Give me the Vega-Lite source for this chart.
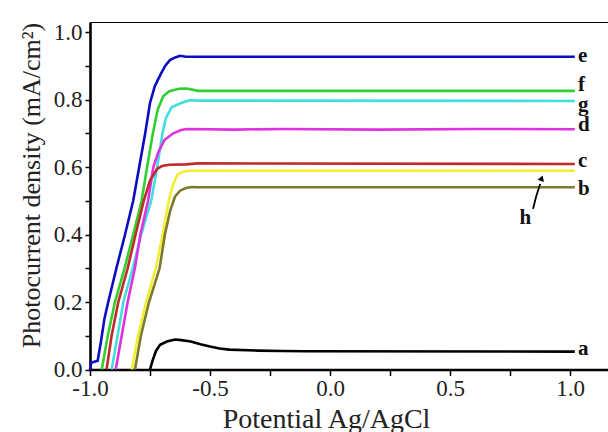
{
  "$schema": "https://vega.github.io/schema/vega-lite/v6.json",
  "width": 518,
  "height": 347.5,
  "autosize": {"type": "none"},
  "padding": {"left": 90, "top": 22, "right": 0, "bottom": 62.5},
  "background": "white",
  "config": {
    "view": {"stroke": null},
    "axis": {"grid": false}
  },
  "datasets": {
    "curves": [
      {"s":"e","x":-1.0,"y":0.0},{"s":"e","x":-0.995,"y":0.02},{"s":"e","x":-0.968,"y":0.026},{"s":"e","x":-0.955,"y":0.08},{"s":"e","x":-0.94,"y":0.15},{"s":"e","x":-0.924,"y":0.2},{"s":"e","x":-0.89,"y":0.3},{"s":"e","x":-0.854,"y":0.4},{"s":"e","x":-0.82,"y":0.5},{"s":"e","x":-0.795,"y":0.6},{"s":"e","x":-0.77,"y":0.7},{"s":"e","x":-0.75,"y":0.79},{"s":"e","x":-0.73,"y":0.84},{"s":"e","x":-0.708,"y":0.872},{"s":"e","x":-0.687,"y":0.9},{"s":"e","x":-0.667,"y":0.917},{"s":"e","x":-0.645,"y":0.925},{"s":"e","x":-0.625,"y":0.93},{"s":"e","x":-0.6,"y":0.927},{"s":"e","x":1.02,"y":0.927},
      {"s":"f","x":-0.951,"y":0.0},{"s":"f","x":-0.926,"y":0.1},{"s":"f","x":-0.896,"y":0.2},{"s":"f","x":-0.856,"y":0.3},{"s":"f","x":-0.82,"y":0.4},{"s":"f","x":-0.785,"y":0.5},{"s":"f","x":-0.762,"y":0.6},{"s":"f","x":-0.738,"y":0.7},{"s":"f","x":-0.718,"y":0.77},{"s":"f","x":-0.695,"y":0.81},{"s":"f","x":-0.67,"y":0.825},{"s":"f","x":-0.63,"y":0.832},{"s":"f","x":-0.597,"y":0.833},{"s":"f","x":-0.55,"y":0.826},{"s":"f","x":1.02,"y":0.826},
      {"s":"g","x":-0.91,"y":0.0},{"s":"g","x":-0.885,"y":0.1},{"s":"g","x":-0.861,"y":0.2},{"s":"g","x":-0.822,"y":0.3},{"s":"g","x":-0.787,"y":0.4},{"s":"g","x":-0.745,"y":0.5},{"s":"g","x":-0.72,"y":0.6},{"s":"g","x":-0.698,"y":0.7},{"s":"g","x":-0.684,"y":0.745},{"s":"g","x":-0.66,"y":0.777},{"s":"g","x":-0.62,"y":0.79},{"s":"g","x":-0.585,"y":0.798},{"s":"g","x":-0.55,"y":0.797},{"s":"g","x":1.02,"y":0.796},
      {"s":"d","x":-0.893,"y":0.0},{"s":"d","x":-0.868,"y":0.1},{"s":"d","x":-0.843,"y":0.2},{"s":"d","x":-0.813,"y":0.3},{"s":"d","x":-0.79,"y":0.4},{"s":"d","x":-0.758,"y":0.5},{"s":"d","x":-0.736,"y":0.6},{"s":"d","x":-0.715,"y":0.645},{"s":"d","x":-0.69,"y":0.68},{"s":"d","x":-0.653,"y":0.7},{"s":"d","x":-0.62,"y":0.71},{"s":"d","x":-0.597,"y":0.713},{"s":"d","x":-0.4,"y":0.711},{"s":"d","x":-0.2,"y":0.713},{"s":"d","x":0.2,"y":0.711},{"s":"d","x":0.6,"y":0.713},{"s":"d","x":1.02,"y":0.712},
      {"s":"c","x":-0.931,"y":0.0},{"s":"c","x":-0.91,"y":0.1},{"s":"c","x":-0.882,"y":0.2},{"s":"c","x":-0.843,"y":0.3},{"s":"c","x":-0.81,"y":0.4},{"s":"c","x":-0.776,"y":0.5},{"s":"c","x":-0.75,"y":0.56},{"s":"c","x":-0.72,"y":0.595},{"s":"c","x":-0.7,"y":0.603},{"s":"c","x":-0.67,"y":0.607},{"s":"c","x":-0.6,"y":0.608},{"s":"c","x":-0.55,"y":0.611},{"s":"c","x":1.02,"y":0.609},
      {"s":"h","x":-0.826,"y":0.0},{"s":"h","x":-0.8,"y":0.1},{"s":"h","x":-0.766,"y":0.2},{"s":"h","x":-0.726,"y":0.3},{"s":"h","x":-0.697,"y":0.4},{"s":"h","x":-0.672,"y":0.5},{"s":"h","x":-0.653,"y":0.55},{"s":"h","x":-0.635,"y":0.578},{"s":"h","x":-0.61,"y":0.587},{"s":"h","x":-0.58,"y":0.589},{"s":"h","x":1.02,"y":0.589},
      {"s":"b","x":-0.8125,"y":0.0},{"s":"b","x":-0.788,"y":0.1},{"s":"b","x":-0.754,"y":0.2},{"s":"b","x":-0.71,"y":0.3},{"s":"b","x":-0.688,"y":0.4},{"s":"b","x":-0.666,"y":0.47},{"s":"b","x":-0.646,"y":0.512},{"s":"b","x":-0.625,"y":0.53},{"s":"b","x":-0.6,"y":0.538},{"s":"b","x":-0.576,"y":0.541},{"s":"b","x":-0.55,"y":0.54},{"s":"b","x":1.02,"y":0.54},
      {"s":"a","x":-0.75,"y":0.0},{"s":"a","x":-0.74,"y":0.025},{"s":"a","x":-0.725,"y":0.055},{"s":"a","x":-0.708,"y":0.073},{"s":"a","x":-0.68,"y":0.083},{"s":"a","x":-0.646,"y":0.089},{"s":"a","x":-0.62,"y":0.087},{"s":"a","x":-0.58,"y":0.083},{"s":"a","x":-0.54,"y":0.075},{"s":"a","x":-0.5,"y":0.068},{"s":"a","x":-0.46,"y":0.062},{"s":"a","x":-0.42,"y":0.059},{"s":"a","x":-0.3,"y":0.056},{"s":"a","x":-0.2,"y":0.055},{"s":"a","x":-0.1,"y":0.054},{"s":"a","x":1.02,"y":0.053}
    ],
    "letters": [
      {"t":"e","x":1.033,"y":0.911},
      {"t":"f","x":1.033,"y":0.825},
      {"t":"g","x":1.033,"y":0.767},
      {"t":"d","x":1.033,"y":0.708},
      {"t":"c","x":1.033,"y":0.601},
      {"t":"b","x":1.033,"y":0.517},
      {"t":"a","x":1.033,"y":0.043},
      {"t":"h","x":0.79,"y":0.431}
    ],
    "arrow": [
      {"x":0.846,"y":0.476},
      {"x":0.86,"y":0.515},
      {"x":0.876,"y":0.55}
    ],
    "head": [
      {"x":0.882,"y":0.567}
    ]
  },
  "resolve": {"axis": {"x": "independent", "y": "independent"}},
  "layer": [
    {
      "data": {"name": "curves"},
      "mark": {"type": "line", "strokeWidth": 2.6, "interpolate": "linear"},
      "encoding": {
        "x": {
          "field": "x", "type": "quantitative",
          "scale": {"domain": [-1.0, 1.1583], "nice": false, "zero": false},
          "axis": {
            "orient": "bottom",
            "values": [-1, -0.75, -0.5, -0.25, 0, 0.25, 0.5, 0.75, 1],
            "labelExpr": "abs(datum.value*2-round(datum.value*2))<0.01 ? replace(format(datum.value,'.1f'),'\u2212','-') : ''",
            "domainColor": "black", "domainWidth": 2.6,
            "tickColor": "black", "tickWidth": 1.5, "tickSize": 6,
            "labelFont": "Liberation Serif", "labelFontSize": 23, "labelColor": "#222",
            "labelPadding": 2, "labelFlush": false, "labelOverlap": false,
            "title": "Potential Ag/AgCl",
            "titleFont": "Liberation Serif", "titleFontSize": 28, "titleFontWeight": "normal", "titleColor": "#222",
            "titleX": 236, "titleY": 58, "titleBaseline": "alphabetic", "titleAlign": "center"
          }
        },
        "y": {
          "field": "y", "type": "quantitative",
          "scale": {"domain": [0, 1.03], "nice": false},
          "axis": {
            "orient": "left",
            "values": [0, 0.1, 0.2, 0.3, 0.4, 0.5, 0.6, 0.7, 0.8, 0.9, 1.0],
            "labelExpr": "abs(datum.value*5-round(datum.value*5))<0.01 ? format(datum.value,'.1f') : ''",
            "domainColor": "black", "domainWidth": 2.6,
            "tickColor": "black", "tickWidth": 1.5, "tickSize": 5,
            "labelFont": "Liberation Serif", "labelFontSize": 23, "labelColor": "#222",
            "labelPadding": 3, "labelFlush": false, "labelOverlap": false,
            "title": "Photocurrent density (mA/cm²)",
            "titleFont": "Liberation Serif", "titleFontSize": 26, "titleFontWeight": "normal", "titleColor": "#222",
            "titleX": -51, "titleY": 163, "titleBaseline": "alphabetic", "titleAlign": "center", "titleAngle": -90
          }
        },
        "color": {
          "field": "s", "type": "nominal",
          "scale": {
            "domain": ["a", "b", "c", "d", "e", "f", "g", "h"],
            "range": ["#000000", "#7c7a2c", "#c02a2a", "#e030e0", "#0c0cc4", "#30d030", "#40dede", "#f2ee30"]
          },
          "legend": null
        }
      }
    },
    {
      "data": {"name": "letters"},
      "mark": {"type": "text", "font": "Liberation Serif", "fontSize": 21, "fontWeight": "bold", "align": "left", "baseline": "alphabetic", "color": "#111"},
      "encoding": {
        "x": {
          "field": "x", "type": "quantitative",
          "axis": {"orient": "top", "domain": true, "domainColor": "black", "domainWidth": 1.2, "ticks": false, "labels": false, "title": null, "grid": false}
        },
        "y": {"field": "y", "type": "quantitative", "axis": null},
        "text": {"field": "t"}
      }
    },
    {
      "data": {"name": "arrow"},
      "mark": {"type": "line", "color": "black", "strokeWidth": 1.8, "interpolate": "monotone"},
      "encoding": {
        "x": {"field": "x", "type": "quantitative", "axis": null},
        "y": {"field": "y", "type": "quantitative", "axis": null}
      }
    },
    {
      "data": {"name": "head"},
      "mark": {"type": "point", "shape": "triangle-up", "filled": true, "color": "black", "size": 45, "angle": 20, "opacity": 1},
      "encoding": {
        "x": {"field": "x", "type": "quantitative", "axis": null},
        "y": {"field": "y", "type": "quantitative", "axis": null}
      }
    }
  ]
}
